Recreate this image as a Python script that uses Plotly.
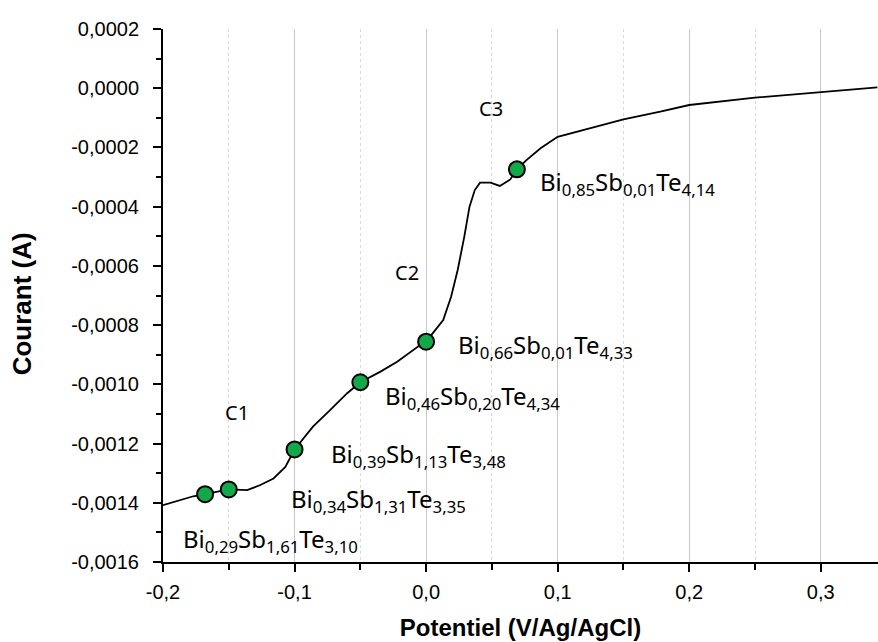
import plotly.graph_objects as go

# Curve (potential V, current A)
potential = [-0.200, -0.187, -0.177, -0.168, -0.150, -0.136, -0.126, -0.116, -0.107, -0.100,
             -0.086, -0.073, -0.060, -0.050, -0.035, -0.022, -0.010, -0.001, 0.005, 0.013,
             0.019, 0.024, 0.029, 0.033, 0.037, 0.041, 0.049, 0.056, 0.064, 0.069,
             0.0765, 0.087, 0.100, 0.120, 0.150, 0.178, 0.200, 0.250, 0.300, 0.343]
current = [-0.001408, -0.001391, -0.001378, -0.001371, -0.001355, -0.001357, -0.001340, -0.001318, -0.001279, -0.001220,
           -0.001143, -0.001087, -0.001030, -0.000993, -0.000958, -0.000924, -0.000884, -0.000856, -0.000828, -0.000783,
           -0.000704, -0.000614, -0.000502, -0.000400, -0.000344, -0.000319, -0.000319, -0.000330, -0.000308, -0.000274,
           -0.000242, -0.000203, -0.000164, -0.000141, -0.000105, -0.0000794, -0.0000567, -0.000032, -0.000012, 0.000003]

# Sampled points (markers)
pt_potential = [-0.168, -0.150, -0.100, -0.050, 0.000, 0.069]
pt_current = [-0.001371, -0.001355, -0.001220, -0.000993, -0.000856, -0.000274]

compositions = [
    ("0,29", "1,61", "3,10"),
    ("0,34", "1,31", "3,35"),
    ("0,39", "1,13", "3,48"),
    ("0,46", "0,20", "4,34"),
    ("0,66", "0,01", "4,33"),
    ("0,85", "0,01", "4,14"),
]
label_x = [-0.1863, -0.1042, -0.0738, -0.0327, 0.0228, 0.0852]
label_y = [-0.001526, -0.001391, -0.001239, -0.001043, -0.000871, -0.000320]

zone_names = ["C1", "C2", "C3"]
zone_x = [-0.1437, -0.0145, 0.0494]
zone_y = [-0.001094, -0.000621, -0.000070]

x_ticks = [-0.2, -0.1, 0.0, 0.1, 0.2, 0.3]
x_ticktext = ["-0,2", "-0,1", "0,0", "0,1", "0,2", "0,3"]
y_ticks = [0.0002, 0.0, -0.0002, -0.0004, -0.0006, -0.0008, -0.0010, -0.0012, -0.0014, -0.0016]
y_ticktext = ["0,0002", "0,0000", "-0,0002", "-0,0004", "-0,0006", "-0,0008",
              "-0,0010", "-0,0012", "-0,0014", "-0,0016"]

fig = go.Figure()
fig.add_trace(go.Scatter(x=potential, y=current, mode="lines",
                         line=dict(color="black", width=1.8), showlegend=False))
fig.add_trace(go.Scatter(x=pt_potential, y=pt_current, mode="markers",
                         marker=dict(size=16, color="#13a84a", line=dict(color="black", width=2)),
                         showlegend=False))

lab_font = dict(family="Noto Sans, Open Sans, sans-serif", size=24, color="black")
for (b, s, t), lx, ly in zip(compositions, label_x, label_y):
    fig.add_annotation(x=lx, y=ly, xref="x", yref="y", showarrow=False,
                       xanchor="left", yanchor="middle",
                       text=f"Bi<sub>{b}</sub>Sb<sub>{s}</sub>Te<sub>{t}</sub>", font=lab_font)
for name, zx, zy in zip(zone_names, zone_x, zone_y):
    fig.add_annotation(x=zx, y=zy, xref="x", yref="y", showarrow=False,
                       xanchor="center", yanchor="middle", text=name,
                       font=dict(family="Noto Sans, Open Sans, sans-serif", size=20, color="black"))

# y-axis title (placed slightly below the axis centre, as in the reference)
fig.add_annotation(x=-0.196, y=0.485, xref="paper", yref="paper", showarrow=False,
                   xanchor="center", yanchor="middle", textangle=-90,
                   text="<b>Courant (A)</b>",
                   font=dict(family="Liberation Sans, Arial, sans-serif", size=26, color="black"))

fig.update_layout(
    width=878, height=642,
    margin=dict(l=163, r=0, t=29, b=80),
    plot_bgcolor="white", paper_bgcolor="white",
    font=dict(family="Liberation Sans, Arial, sans-serif", size=20, color="black"),
)
fig.update_xaxes(
    range=[-0.2, 0.3435], tickvals=x_ticks, ticktext=x_ticktext,
    showline=True, linecolor="black", linewidth=2,
    ticks="outside", ticklen=8, tickwidth=2, tickcolor="black", ticklabelstandoff=3,
    showgrid=True, gridcolor="#c8c8c8", gridwidth=1.3,
    zeroline=False,
    minor=dict(dtick=0.05, tick0=0, ticks="outside", ticklen=6, tickwidth=2, tickcolor="black",
               showgrid=True, gridcolor="#d8d8d8", griddash="dot", gridwidth=1),
    title=dict(text="<b>Potentiel (V/Ag/AgCl)</b>", font=dict(size=24), standoff=17),
)
fig.update_yaxes(
    range=[-0.0016, 0.0002], tickvals=y_ticks, ticktext=y_ticktext,
    showline=True, linecolor="black", linewidth=2,
    ticks="outside", ticklen=8, tickwidth=2, tickcolor="black", ticklabelstandoff=10,
    showgrid=False, zeroline=False,
    minor=dict(dtick=0.0001, tick0=0, ticks="outside", ticklen=5, tickwidth=2, tickcolor="black",
               showgrid=False),
)

fig.write_html("out.html", config={"displayModeBar": False},
               post_script="document.body.style.margin='0px';")
